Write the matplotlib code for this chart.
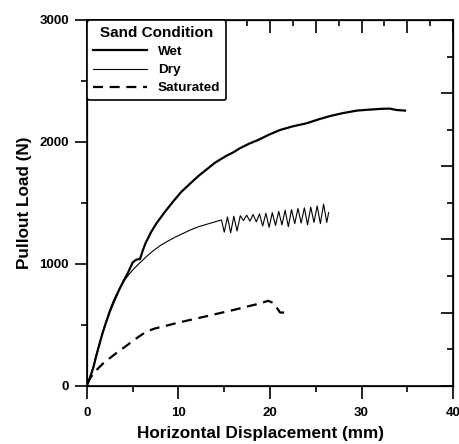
import numpy as np
import matplotlib.pyplot as plt
from matplotlib.ticker import MultipleLocator, NullFormatter

plt.rcParams['font.family'] = ['Liberation Sans', 'DejaVu Sans']
plt.rcParams['font.weight'] = 'bold'

# wet sand
wet_x = [0, 0.3, 0.7, 1.0, 1.4, 1.7, 2.0, 2.5, 3.0, 3.5, 4.0, 4.5, 5.0, 5.4, 5.8, 6.1, 6.4,
         7.0, 7.6, 8.5, 9.4, 10.3, 11.3, 12.2, 13.1, 14.0, 15.2, 16.0, 16.7, 17.7, 18.7,
         19.9, 21.1, 22.5, 24.0, 25.3, 26.6, 28.0, 29.5, 30.5, 31.5, 32.3, 33.1, 33.8, 34.75]
wet_y = [0, 60, 150, 240, 350, 430, 500, 610, 700, 785, 860, 930, 1012, 1035, 1040, 1110, 1170,
         1260, 1333, 1425, 1510, 1590, 1660, 1722, 1776, 1830, 1885, 1915, 1948, 1985, 2016,
         2060, 2098, 2128, 2153, 2185, 2213, 2237, 2257, 2263, 2268, 2272, 2273, 2262, 2257]

# dry sand
dry_x = [0, 0.3, 0.7, 1.0, 1.4, 2.0, 2.5, 2.9, 3.5, 4.0, 4.5, 5.0, 5.8, 6.5, 7.2, 8.0, 8.8,
         9.6, 10.5, 11.3, 12.2, 13.1, 13.9, 14.7,
         15.0, 15.35, 15.7, 16.05, 16.4, 16.75, 17.1, 17.45, 17.8, 18.15, 18.5, 18.85,
         19.2, 19.55, 19.9, 20.25, 20.6, 20.95, 21.3, 21.65, 22.0, 22.35, 22.7, 23.05,
         23.4, 23.75, 24.1, 24.45, 24.8, 25.15, 25.5, 25.85, 26.2, 26.4]
dry_y = [0, 60, 160, 250, 360, 510, 620, 700, 790, 855, 905, 950, 1010, 1060, 1105, 1150, 1185,
         1218, 1250, 1278, 1305, 1325, 1343, 1360,
         1260, 1385, 1255, 1390, 1270, 1395, 1355, 1400, 1350, 1405, 1345, 1410,
         1310, 1415, 1300, 1420, 1315, 1430, 1320, 1440, 1305, 1445, 1330, 1455,
         1335, 1460, 1320, 1465, 1340, 1475, 1330, 1490, 1340, 1420]

# saturated sand
sat_x = [0, 0.7, 1.8, 3.2, 4.7, 5.6, 6.5, 7.4, 8.3, 9.8, 11.3, 12.9, 14.5, 16.0, 17.5, 18.7,
         19.8, 20.4, 21.1, 22.0]
sat_y = [20, 104, 186, 268, 350, 400, 445, 470, 486, 515, 541, 568, 596, 622, 650, 672,
         697, 678, 601, 601]

fig = plt.figure(figsize=(4.6, 4.44), dpi=100)
ax = fig.add_axes([0.189, 0.131, 0.796, 0.824])

l1, = ax.plot(wet_x, wet_y, color='black', lw=1.6, label='Wet')
l2, = ax.plot(dry_x, dry_y, color='black', lw=0.8, label='Dry')
l3, = ax.plot(sat_x, sat_y, color='black', lw=1.6, ls=(0, (4.5, 3)), label='Saturated')

ax.set_xlim(0, 40)
ax.set_ylim(0, 3000)
ax.xaxis.set_major_locator(MultipleLocator(10))
ax.xaxis.set_minor_locator(MultipleLocator(5))
ax.yaxis.set_major_locator(MultipleLocator(1000))
ax.yaxis.set_minor_locator(MultipleLocator(500))
ax.tick_params(which='major', direction='out', length=9, width=1.2, labelsize=9.5, pad=4)
ax.tick_params(axis='x', which='major', pad=6)
ax.tick_params(which='minor', direction='out', length=4.5, width=1.2)
for s in ax.spines.values():
    s.set_linewidth(1.2)

ax.set_xlabel('Horizontal Displacement (mm)', fontsize=12.3, fontweight='bold', labelpad=6)
ax.xaxis.set_label_coords(0.475, -0.11)
ax.set_ylabel('Pullout Load (N)', fontsize=12.3, fontweight='bold', labelpad=5)

# right and top ticks (inside, no labels)
ax2 = ax.twinx()
ax2.set_ylim(0, 3000)
ax2.yaxis.set_major_locator(MultipleLocator(600))
ax2.yaxis.set_minor_locator(MultipleLocator(300))
ax2.yaxis.set_major_formatter(NullFormatter())
ax2.tick_params(which='major', direction='in', length=9, width=1.2)
ax2.tick_params(which='minor', direction='in', length=4.5, width=1.2)

ax3 = ax.twiny()
ax3.set_xlim(0, 40)
ax3.xaxis.set_major_locator(MultipleLocator(5))
ax3.xaxis.set_minor_locator(MultipleLocator(2.5))
ax3.xaxis.set_major_formatter(NullFormatter())
ax3.tick_params(which='major', direction='in', length=9, width=1.2)
ax3.tick_params(which='minor', direction='in', length=4.5, width=1.2)

leg = ax3.legend(handles=[l1, l2, l3], loc='upper left', bbox_to_anchor=(0, 1),
                 borderaxespad=0, title='Sand Condition', fancybox=True,
                 prop={'weight': 'bold', 'size': 9.7}, handlelength=4.0,
                 handletextpad=0.8, labelspacing=0.42, borderpad=0.45,
                 title_fontproperties={'weight': 'bold', 'size': 11}, framealpha=1)
leg.get_frame().set_edgecolor('black')
leg.get_frame().set_linewidth(1.2)

fig.savefig('out.png', dpi=100)
